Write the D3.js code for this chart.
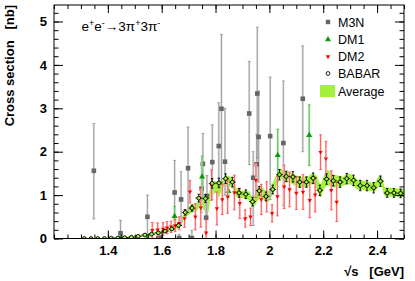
<!DOCTYPE html>
<html>
<head>
<meta charset="utf-8">
<script src="https://cdn.jsdelivr.net/npm/d3@7"></script>
<style>
  body { margin: 0; background: #fff; }
  svg { display: block; }
  text { font-family: "Liberation Sans", Arial, Helvetica, sans-serif; }
</style>
</head>
<body>
<svg id="chart" width="415" height="281"></svg>
<script>
// BABAR points (open circles)
var babarX = [1.3125,1.3375,1.3625,1.3875,1.4125,1.4375,1.4625,1.4875,1.5125,1.5375,1.5625,1.5875,1.6125,1.6375,1.6625,1.6875,1.7125,1.7375,1.7625,1.7875,1.8125,1.8375,1.8625,1.8875,1.9125,1.9375,1.9625,1.9875,2.0125,2.0375,2.0625,2.0875,2.1125,2.1375,2.1625,2.1875,2.2125,2.2375,2.2625,2.2875,2.3125,2.3375,2.3625,2.3875,2.4125,2.4375,2.4625,2.4875];
var babarY = [0,0,0,0,0.01,0.01,0.02,0.03,0.05,0.08,0.1,0.13,0.17,0.22,0.3,0.6,0.7,0.93,0.92,1.27,1.28,1.38,1.3,1.05,1.02,0.85,1.1,0.97,1.13,1.47,1.43,1.42,1.3,1.3,1.39,1.11,1.37,1.33,1.3,1.38,1.34,1.22,1.22,1.17,1.32,1.05,1.05,1.04];
var babarErr = [0.01,0.01,0.01,0.01,0.01,0.01,0.01,0.01,0.015,0.02,0.02,0.02,0.03,0.03,0.04,0.06,0.07,0.09,0.09,0.11,0.11,0.11,0.11,0.1,0.1,0.1,0.1,0.1,0.1,0.12,0.12,0.12,0.12,0.12,0.12,0.12,0.12,0.12,0.12,0.12,0.12,0.12,0.12,0.12,0.12,0.1,0.1,0.1];

// M3N points (grey squares), error bar ends
var m3nX  = [1.348,1.447,1.547,1.587,1.597,1.648,1.665,1.672,1.698,1.712,1.748,1.753,1.765,1.768,1.788,1.812,1.822,1.835,1.925,1.94,1.953,1.955,1.96,2.003,2.052,2.124];
var m3nY  = [1.56,0.12,0.5,0.01,0.01,1.06,0.01,0.9,1.62,0.01,1.15,1.72,0.48,0.98,1.76,2.13,2.99,1.77,2.88,1.4,1.71,3.34,2.34,2.36,2.2,3.22];
var m3nLo = [0.45,0,0,0,0,0.42,0,0.3,0.6,0,0.6,1.0,0,0.5,0.9,1.2,1.3,1.0,1.7,0.3,1.1,1.85,1.3,0.9,0.75,2.0];
var m3nHi = [2.65,0.42,1.0,0.06,0.08,1.8,0.1,1.54,2.57,0.19,1.7,2.42,0.9,1.45,2.62,3.13,4.7,3.0,4.08,2.0,2.4,4.87,3.4,3.72,3.63,4.44];

// DM1 points (green triangles)
var dm1X   = [1.447,1.547,1.648,1.75,1.848,2.031,2.148];
var dm1Y   = [0.0,0.0,0.51,1.42,1.09,1.92,2.38];
var dm1Err = [0.03,0.03,0.23,0.48,0.15,0.6,0.7];

// DM2 points (red inverted triangles)
var dm2X   = [1.565,1.585,1.605,1.62,1.635,1.65,1.665,1.685,1.705,1.725,1.745,1.765,1.785,1.805,1.825,1.845,1.87,1.89,1.91,1.93,1.95,1.97,1.99,2.01,2.03,2.055,2.075,2.1,2.125,2.15,2.17,2.19,2.21,2.23,2.25];
var dm2Y   = [0.19,0.2,0.22,0.25,0.27,0.3,0.35,0.46,1.08,0.5,0.71,0.13,1.23,0.69,0.9,0.96,1.06,0.81,0.46,0.5,1.34,0.9,0.96,0.58,0.97,1.19,1.13,1.05,1.07,0.88,1.01,1.99,1.84,1.11,0.84];
var dm2Err = [0.18,0.16,0.15,0.14,0.13,0.14,0.15,0.2,0.26,0.3,0.45,0.3,0.35,0.38,0.35,0.38,0.4,0.35,0.2,0.2,0.4,0.35,0.35,0.2,0.45,0.5,0.4,0.38,0.4,0.4,0.4,0.4,0.4,0.45,0.45];

// Average band
var avgX  = [1.3,1.44,1.47,1.5,1.53,1.56,1.59,1.62,1.645,1.665,1.685,1.7,1.715,1.73,1.745,1.76,1.772,1.785,1.8,1.812,1.825,1.84,1.855,1.868,1.88,1.9,1.92,1.94,1.955,1.97,1.99,2.01,2.025,2.04,2.06,2.08,2.1,2.12,2.14,2.16,2.175,2.19,2.2,2.215,2.235,2.255,2.27,2.29,2.31,2.33,2.35,2.37,2.39,2.405,2.415,2.43,2.45,2.47,2.5];
var avgLo = [0,0,0.01,0.02,0.05,0.08,0.11,0.14,0.2,0.26,0.45,0.55,0.6,0.62,0.78,0.62,0.58,1.0,1.05,0.95,1.15,1.2,1.2,1.1,0.95,0.93,0.9,0.7,0.85,0.95,0.82,0.98,1.2,1.38,1.3,1.28,1.2,1.18,1.18,1.25,1.15,0.95,1.1,1.22,1.18,1.18,1.2,1.25,1.22,1.12,1.12,1.1,1.08,1.2,1.22,0.97,0.97,0.97,0.95];
var avgHi = [0.01,0.02,0.03,0.05,0.09,0.13,0.17,0.22,0.3,0.38,0.62,0.72,0.8,0.8,0.98,0.97,0.95,1.3,1.32,1.3,1.35,1.45,1.42,1.3,1.15,1.1,1.1,0.95,1.15,1.2,1.08,1.25,1.45,1.6,1.55,1.52,1.45,1.42,1.42,1.5,1.45,1.25,1.4,1.58,1.48,1.45,1.42,1.5,1.46,1.35,1.33,1.3,1.28,1.42,1.45,1.18,1.17,1.15,1.14];

var xTicks = [1.4, 1.6, 1.8, 2, 2.2, 2.4];
var yTicks = [0, 1, 2, 3, 4, 5];

var frame = {left: 54, right: 404, top: 5, bottom: 238.5};
var svg = d3.select("#chart");

var x = d3.scaleLinear().domain([1.2, 2.5]).range([frame.left, frame.right]);
var y = d3.scaleLinear().domain([0, 5.38]).range([frame.bottom, frame.top]);

var green = "#a2f23c";

svg.append("clipPath").attr("id", "clip")
    .append("rect")
    .attr("x", frame.left).attr("y", frame.top)
    .attr("width", frame.right - frame.left).attr("height", frame.bottom - frame.top);

var plot = svg.append("g").attr("clip-path", "url(#clip)");

// average band
var band = avgX.map(function(d, i) { return {x: d, lo: avgLo[i], hi: avgHi[i]}; });
plot.append("path")
    .datum(band)
    .attr("fill", green)
    .attr("d", d3.area()
        .curve(d3.curveMonotoneX)
        .x(function(d) { return x(d.x); })
        .y0(function(d) { return y(d.lo); })
        .y1(function(d) { return y(d.hi); }));

function errBars(g, pts, color, under, cap, lw) {
    if (under) {
        g.selectAll(null).data(pts).enter().append("line")
            .attr("x1", function(d) { return x(d.x); })
            .attr("x2", function(d) { return x(d.x); })
            .attr("y1", function(d) { return y(d.lo); })
            .attr("y2", function(d) { return y(d.hi); })
            .attr("stroke", under).attr("stroke-width", 2);
    }
    g.selectAll(null).data(pts).enter().append("line")
        .attr("x1", function(d) { return x(d.x); })
        .attr("x2", function(d) { return x(d.x); })
        .attr("y1", function(d) { return y(d.lo); })
        .attr("y2", function(d) { return y(d.hi); })
        .attr("stroke", color).attr("stroke-width", lw);
    ["lo", "hi"].forEach(function(k) {
        g.selectAll(null).data(pts).enter().append("line")
            .attr("x1", function(d) { return x(d.x) - cap; })
            .attr("x2", function(d) { return x(d.x) + cap; })
            .attr("y1", function(d) { return y(d[k]); })
            .attr("y2", function(d) { return y(d[k]); })
            .attr("stroke", color).attr("stroke-width", lw);
    });
}

// M3N
var m3n = m3nX.map(function(d, i) { return {x: d, y: m3nY[i], lo: m3nLo[i], hi: m3nHi[i]}; });
var gM = plot.append("g");
errBars(gM, m3n, "#8a8a8a", "#dadada", 1.5, 0.7);
gM.selectAll("rect").data(m3n).enter().append("rect")
    .attr("x", function(d) { return x(d.x) - 2.3; })
    .attr("y", function(d) { return y(d.y) - 2.3; })
    .attr("width", 4.6).attr("height", 4.6)
    .attr("fill", "#666");

// DM1
var dm1 = dm1X.map(function(d, i) { return {x: d, y: dm1Y[i], lo: Math.max(0, dm1Y[i] - dm1Err[i]), hi: dm1Y[i] + dm1Err[i]}; });
var gD1 = plot.append("g");
errBars(gD1, dm1, "#2aae2a", "#b4e8b4", 1.4, 0.7);
gD1.selectAll("path").data(dm1).enter().append("path")
    .attr("transform", function(d) { return "translate(" + x(d.x) + "," + y(d.y) + ")"; })
    .attr("d", d3.symbol().type(d3.symbolTriangle).size(16))
    .attr("fill", "#0a9a0a");

// DM2
var dm2 = dm2X.map(function(d, i) { return {x: d, y: dm2Y[i], lo: Math.max(0, dm2Y[i] - dm2Err[i]), hi: dm2Y[i] + dm2Err[i]}; });
var gD2 = plot.append("g");
errBars(gD2, dm2, "#ff3030", "#ffc8c8", 1.4, 0.7);
gD2.selectAll("path").data(dm2).enter().append("path")
    .attr("transform", function(d) { return "translate(" + x(d.x) + "," + y(d.y) + ") rotate(180)"; })
    .attr("d", d3.symbol().type(d3.symbolTriangle).size(8))
    .attr("fill", "#ff0000");

// BABAR
var babar = babarX.map(function(d, i) { return {x: d, y: babarY[i], lo: Math.max(0, babarY[i] - babarErr[i]), hi: babarY[i] + babarErr[i]}; });
var gB = plot.append("g");
errBars(gB, babar, "#000", null, 1.2, 0.9);
gB.selectAll(".hbar").data(babar).enter().append("line")
    .attr("class", "hbar")
    .attr("x1", function(d) { return x(d.x - 0.0125); })
    .attr("x2", function(d) { return x(d.x + 0.0125); })
    .attr("y1", function(d) { return y(d.y); })
    .attr("y2", function(d) { return y(d.y); })
    .attr("stroke", "#000").attr("stroke-width", 0.9);
gB.selectAll("circle").data(babar).enter().append("circle")
    .attr("cx", function(d) { return x(d.x); })
    .attr("cy", function(d) { return y(d.y); })
    .attr("r", 1.9)
    .attr("fill", green)
    .attr("stroke", "#000").attr("stroke-width", 0.9);

// axes: ticks on all four sides pointing inward
var xMinor = d3.range(1.2, 2.5001, 0.05);
var yMinor = d3.range(0, 5.38, 0.2);

function styleAxis(g) {
    g.select(".domain").remove();
    g.selectAll("line").attr("stroke", "#000");
    g.selectAll("text")
        .attr("font-family", "'Liberation Sans', Arial, sans-serif")
        .attr("font-size", 13).attr("font-weight", "bold").attr("fill", "#000");
}

svg.append("g").attr("transform", "translate(0," + frame.bottom + ")")
    .call(d3.axisBottom(x).tickValues(xMinor).tickSize(-4).tickFormat(""))
    .call(styleAxis);
svg.append("g").attr("transform", "translate(0," + frame.bottom + ")")
    .call(d3.axisBottom(x).tickValues(xTicks).tickSize(-8).tickPadding(7.5).tickFormat(d3.format("")))
    .call(styleAxis);
svg.append("g").attr("transform", "translate(0," + frame.top + ")")
    .call(d3.axisTop(x).tickValues(xMinor).tickSize(-4).tickFormat(""))
    .call(styleAxis);
svg.append("g").attr("transform", "translate(0," + frame.top + ")")
    .call(d3.axisTop(x).tickValues(xTicks).tickSize(-8).tickFormat(""))
    .call(styleAxis);

svg.append("g").attr("transform", "translate(" + frame.left + ",0)")
    .call(d3.axisLeft(y).tickValues(yMinor).tickSize(-4.5).tickFormat(""))
    .call(styleAxis);
svg.append("g").attr("transform", "translate(" + frame.left + ",0)")
    .call(d3.axisLeft(y).tickValues(yTicks).tickSize(-9).tickPadding(7).tickFormat(d3.format("d")))
    .call(styleAxis);
svg.append("g").attr("transform", "translate(" + frame.right + ",0)")
    .call(d3.axisRight(y).tickValues(yMinor).tickSize(-4.5).tickFormat(""))
    .call(styleAxis);
svg.append("g").attr("transform", "translate(" + frame.right + ",0)")
    .call(d3.axisRight(y).tickValues(yTicks).tickSize(-9).tickFormat(""))
    .call(styleAxis);

svg.append("rect")
    .attr("x", frame.left).attr("y", frame.top)
    .attr("width", frame.right - frame.left).attr("height", frame.bottom - frame.top)
    .attr("fill", "none").attr("stroke", "#000").attr("stroke-width", 1);

// axis titles
svg.append("text")
    .attr("transform", "translate(14," + frame.top + ") rotate(-90)")
    .attr("text-anchor", "end")
    .attr("font-size", 13).attr("font-weight", "bold")
    .attr("xml:space", "preserve")
    .text("Cross section   [nb]");

svg.append("text")
    .attr("x", frame.right).attr("y", 275.5)
    .attr("text-anchor", "end")
    .attr("font-size", 13).attr("font-weight", "bold")
    .attr("xml:space", "preserve")
    .text("\u221As   [GeV]");

// reaction label
var title = svg.append("text").attr("x", 81.5).attr("y", 31).attr("font-size", 13.5);
title.append("tspan").text("e");
title.append("tspan").attr("font-size", 9).attr("dy", -5).text("+");
title.append("tspan").attr("dy", 5).text("e");
title.append("tspan").attr("font-size", 9).attr("dy", -5).text("-");
title.append("tspan").attr("dy", 5).text("\u21923\u03C0");
title.append("tspan").attr("font-size", 9).attr("dy", -5).text("+");
title.append("tspan").attr("dy", 5).text("3\u03C0");
title.append("tspan").attr("font-size", 9).attr("dy", -5).text("-");

// legend
var legX = 328, legTextX = 338, legY = [22, 39.5, 56.5, 73.5, 91];
var leg = svg.append("g").attr("font-size", 12.5);
leg.append("rect").attr("x", legX - 2.2).attr("y", legY[0] - 2.2).attr("width", 4.4).attr("height", 4.4).attr("fill", "#666");
leg.append("path").attr("transform", "translate(" + legX + "," + legY[1] + ")")
    .attr("d", d3.symbol().type(d3.symbolTriangle).size(16)).attr("fill", "#0a9a0a");
leg.append("path").attr("transform", "translate(" + legX + "," + legY[2] + ") rotate(180)")
    .attr("d", d3.symbol().type(d3.symbolTriangle).size(9)).attr("fill", "#ff0000");
leg.append("circle").attr("cx", legX).attr("cy", legY[3]).attr("r", 1.9)
    .attr("fill", "none").attr("stroke", "#000").attr("stroke-width", 0.9);
leg.append("rect").attr("x", 320).attr("y", 85).attr("width", 15).attr("height", 12).attr("fill", green);
["M3N", "DM1", "DM2", "BABAR", "Average"].forEach(function(t, i) {
    leg.append("text").attr("x", legTextX).attr("y", legY[i]).attr("dy", "0.36em").text(t);
});
</script>
</body>
</html>
